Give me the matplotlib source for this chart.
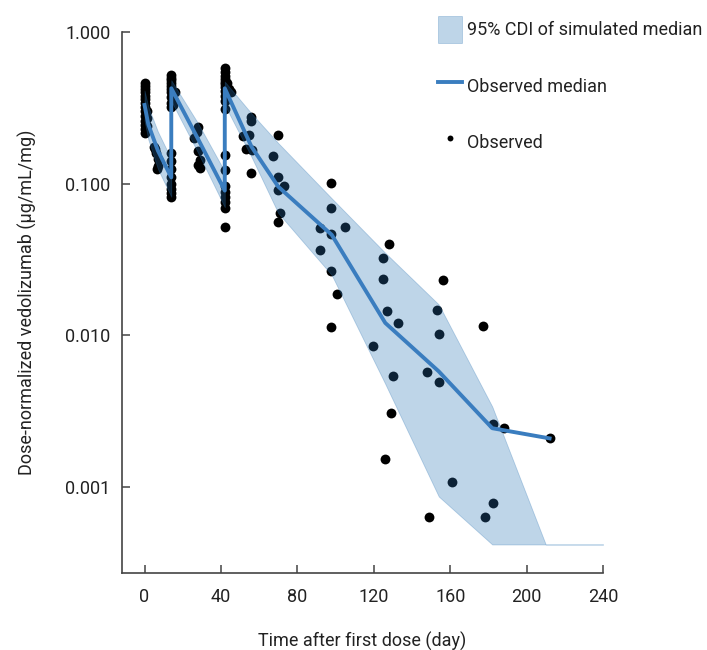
import numpy as np
import matplotlib
matplotlib.use('Agg')
import matplotlib.pyplot as plt

plt.rcParams['font.family'] = ['Roboto', 'DejaVu Sans']

# simulated median 95% CDI (band)
band_day = [0, 2, 7, 14, 14, 28, 42, 42, 56, 70, 98, 126, 154, 182, 210, 240]
band_low = [0.26, 0.195, 0.125, 0.082, 0.35, 0.16, 0.07, 0.33, 0.15, 0.064, 0.025,
            0.0048, 0.00087, 0.00042, 0.00042, 0.00042]
band_high = [0.41, 0.32, 0.22, 0.145, 0.48, 0.25, 0.12, 0.47, 0.29, 0.185, 0.08,
             0.035, 0.016, 0.0034, 0.00042, 0.00042]

# observed median
med_day = [0, 2, 7, 14, 14, 28, 42, 42, 56, 70, 98, 126, 154, 182, 212]
med_val = [0.33, 0.245, 0.165, 0.11, 0.425, 0.197, 0.09, 0.425, 0.175, 0.0955,
           0.046, 0.0121, 0.0058, 0.00245, 0.0021]

# observed concentrations
obs_day = ([0] * 14 + [1.5, 1.5, 1.5]
           + [5, 6, 7, 7, 6.5, 5.5]
           + [14] * 10 + [15, 16, 15]
           + [14] * 8
           + [28, 27.5, 26, 28, 29, 28, 29]
           + [42] * 11 + [43, 44, 45]
           + [42] * 8
           + [55.7, 55.7, 54.8, 51.3, 53, 56.5, 55.7]
           + [69.6, 67, 69.6, 73.1, 69.6, 71, 69.6]
           + [97.8, 97.8, 104.8, 91.9, 97.8, 91.9, 97.8, 100.9, 97.8]
           + [127.9, 125, 125, 127, 132.8, 119.7, 130, 128.8, 125.8]
           + [156, 153, 154, 177, 147.9, 154, 182.2, 188, 212.4,
              161, 182.2, 178, 148.8])
obs_val = ([0.46, 0.44, 0.42, 0.40, 0.38, 0.36, 0.34, 0.32, 0.30, 0.28, 0.26,
            0.245, 0.23, 0.215] + [0.30, 0.27, 0.24]
           + [0.175, 0.16, 0.145, 0.13, 0.125, 0.17]
           + [0.52, 0.50, 0.48, 0.46, 0.44, 0.42, 0.40, 0.37, 0.34, 0.32]
           + [0.36, 0.40, 0.33]
           + [0.16, 0.14, 0.125, 0.11, 0.10, 0.092, 0.087, 0.082]
           + [0.235, 0.22, 0.20, 0.163, 0.143, 0.133, 0.126]
           + [0.58, 0.54, 0.51, 0.49, 0.47, 0.45, 0.43, 0.41, 0.38, 0.35, 0.31]
           + [0.46, 0.42, 0.40]
           + [0.155, 0.123, 0.097, 0.088, 0.082, 0.076, 0.069, 0.052]
           + [0.276, 0.26, 0.209, 0.205, 0.17, 0.167, 0.118]
           + [0.209, 0.152, 0.110, 0.0966, 0.091, 0.0638, 0.056]
           + [0.1007, 0.0689, 0.052, 0.0508, 0.0467, 0.0366, 0.0267, 0.0187, 0.0113]
           + [0.0399, 0.0323, 0.0236, 0.0144, 0.0120, 0.0085, 0.0054, 0.00308, 0.00153]
           + [0.0232, 0.0147, 0.0103, 0.01156, 0.00578, 0.00492, 0.00261, 0.00245,
              0.0021, 0.00108, 0.00079, 0.000634, 0.00064])

x_ticks = [0, 40, 80, 120, 160, 200, 240]
y_ticks = [0.001, 0.01, 0.1, 1.0]
y_labels = ['0.001', '0.010', '0.100', '1.000']

fig = plt.figure(figsize=(7.07, 6.5), dpi=100)
ax = fig.add_axes([0.172, 0.119, 0.681, 0.832])

ax.scatter(obs_day, obs_val, s=50, color='black', zorder=2, label='Observed',
           linewidths=0)
ax.fill_between(band_day, band_low, band_high, color='#2a74b4', alpha=0.3,
                linewidth=0.6, edgecolor='#2a74b4', zorder=3,
                label='95% CDI of simulated median')
ax.plot(med_day, med_val, color='#3a7dbf', lw=2.8, zorder=4, label='Observed median')

ax.set_yscale('log')
ax.set_xlim(-12, 240)
ax.set_ylim(0.000274, 1.0)
ax.set_xticks(x_ticks)
ax.set_yticks(y_ticks)
ax.set_yticklabels(y_labels)
ax.minorticks_off()

for s in ['top', 'right']:
    ax.spines[s].set_visible(False)
for s in ['left', 'bottom']:
    ax.spines[s].set_color('#444444')
    ax.spines[s].set_linewidth(1.2)

ax.tick_params(axis='both', direction='in', length=6, width=1.1, color='#444444',
               labelsize=13, labelcolor='#222222')
ax.tick_params(axis='x', pad=11)
ax.tick_params(axis='y', pad=8)

ax.set_xlabel('Time after first dose (day)', fontsize=13, color='#222222', labelpad=19)
ax.set_ylabel('Dose-normalized vedolizumab (μg/mL/mg)', fontsize=13, color='#222222',
              labelpad=20)

h, l = ax.get_legend_handles_labels()
order = [1, 2, 0]
leg = ax.legend([h[i] for i in order], [l[i] for i in order],
                loc='upper left', bbox_to_anchor=(0.596, 1.0), bbox_transform=fig.transFigure,
                frameon=False, fontsize=13, handlelength=1.35, handleheight=1.9,
                labelspacing=1.65, handletextpad=0.3, markerscale=0.6)
for t in leg.get_texts():
    t.set_color('#222222')

fig.savefig('out.png', dpi=100)
